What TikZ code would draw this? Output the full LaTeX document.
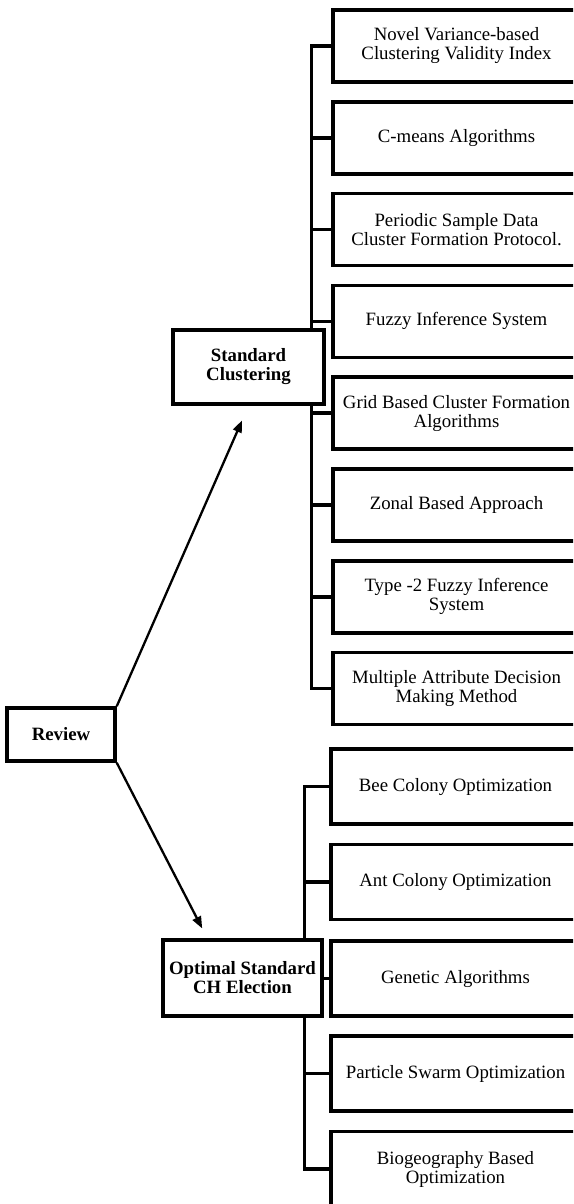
\documentclass[tikz,border=0pt]{standalone}
\usepackage{fontspec}
\setmainfont{Liberation Serif}
\usetikzlibrary{arrows.meta,calc}
\begin{document}
\begin{tikzpicture}[x=1pt,y=-1pt,
  txt/.style={font=\fontsize{18.8}{19}\selectfont},
  leaf/.style={txt, draw, line width=3.5pt, minimum height=72pt, inner sep=0pt, align=center},
  leafA/.style={leaf, minimum width=247pt},
  leafB/.style={leaf, minimum width=249pt, minimum height=75pt},
  hub/.style={draw, line width=3.5pt, fill=white, inner sep=0pt, align=center,
    font=\fontsize{18.8}{19}\selectfont\bfseries},
  trunk/.style={line width=3.5pt},
  arr/.style={line width=2.3pt, -{Triangle[length=12pt,width=9pt]}}]
\path[use as bounding box, clip] (0,0) rectangle (573,1204);

% top group
\node[leafA] (a1) at (456.5,46)    {Novel Variance-based\\Clustering Validity Index};
\node[leafA] (a2) at (456.5,137.8) {C-means Algorithms};
\node[leafA] (a3) at (456.5,229.6) {Periodic Sample Data\\Cluster Formation Protocol.};
\node[leafA] (a4) at (456.5,321.4) {Fuzzy Inference System};
\node[leafA] (a5) at (456.5,413.2) {Grid Based Cluster Formation\\Algorithms};
\node[leafA] (a6) at (456.5,505)   {Zonal Based Approach};
\node[leafA] (a7) at (456.5,596.8) {Type -2 Fuzzy Inference\\System};
\node[leafA] (a8) at (456.5,688.6) {Multiple Attribute Decision\\Making Method};

% bottom group
\node[leafB] (b1) at (455.5,786.5) {Bee Colony Optimization};
\node[leafB] (b2) at (455.5,882)   {Ant Colony Optimization};
\node[leafB] (b3) at (455.5,978.5) {Genetic Algorithms};
\node[leafB] (b4) at (455.5,1073.5){Particle Swarm Optimization};
\node[leafB] (b5) at (455.5,1169)  {Biogeography Based\\Optimization};

% trunks
\draw[trunk] (a1.west) -- ++(-20,0) |- (a8.west);
\foreach \i in {2,...,7} \draw[trunk] (a\i.west) -- ++(-20,0);
\draw[trunk] (b1.west) -- ++(-25,0) |- (b5.west);
\foreach \i in {2,3,4} \draw[trunk] (b\i.west) -- ++(-25,0);

% hubs
\node[hub, minimum width=151pt, minimum height=74pt] (std) at (248.5,367) {Standard\\Clustering};
\node[hub, minimum width=159pt, minimum height=76pt] (opt) at (242.5,978) {Optimal Standard\\CH Election};
\node[hub, minimum width=108pt, minimum height=53pt] (rev) at (61,734.5) {Review};

% arrows
\draw[arr, shorten >=16pt] (rev.north east) -- (std.south);
\coordinate (optin) at ($(opt.north west)+(46,0)$);
\draw[arr, shorten >=11pt] (rev.south east) -- (optin);
\end{tikzpicture}
\end{document}
